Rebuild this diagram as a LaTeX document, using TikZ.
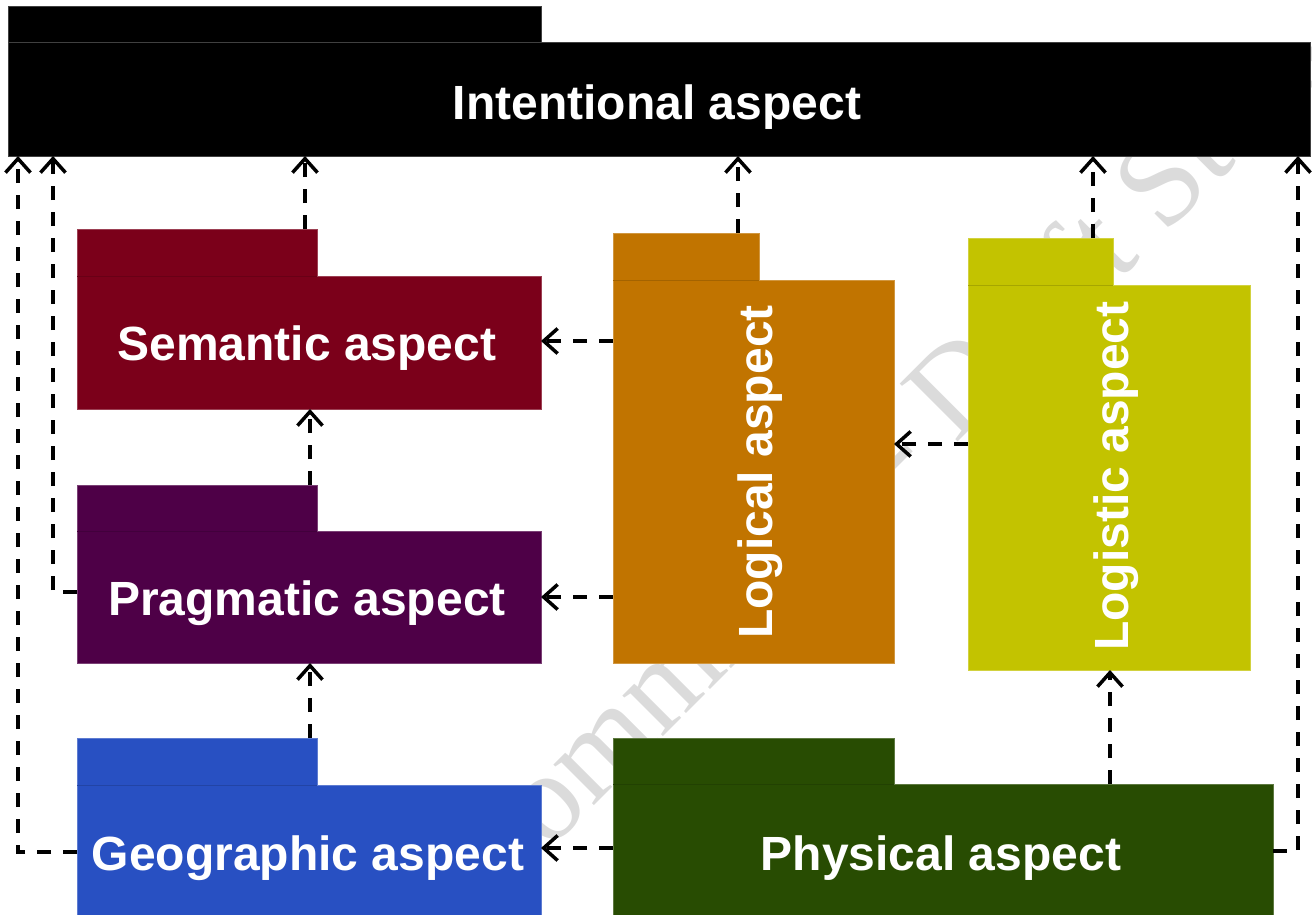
\documentclass[tikz,border=0pt]{standalone}
\usepackage{fontspec}
\setmainfont{Liberation Sans}
\newfontfamily\wmfont{Liberation Serif}
\usetikzlibrary{arrows.meta}
\definecolor{semc}{RGB}{123,0,26}
\definecolor{prac}{RGB}{78,0,71}
\definecolor{geoc}{RGB}{40,80,194}
\definecolor{logc}{RGB}{193,116,0}
\definecolor{lgsc}{RGB}{195,195,0}
\definecolor{phyc}{RGB}{40,76,2}
\begin{document}
\begin{tikzpicture}[x=1pt,y=-1pt,
  box/.style={fill=#1, draw=#1!75!white, line width=0.8pt, inner sep=0pt, outer sep=0pt, anchor=north west},
  divider/.style={draw=#1!85!black, line width=1pt},
  lbl/.style={text=white, font=\fontsize{48}{58}\selectfont\bfseries, inner sep=0pt, anchor=base},
  conn/.style={draw=black, line width=3.5pt, dash pattern=on 14pt off 12pt, -{Straight Barb[length=14pt,width=25pt]}},
  wm/.style={text=black!14, font={\wmfont\fontsize{125}{125}\selectfont}, inner sep=0pt, anchor=base west, rotate=45}]
\useasboundingbox (0,0) rectangle (1312,915);
\clip (0,0) rectangle (1312,915);
\begin{scope}
\clip (0,0) -- (541,0) -- (541,42) -- (1312,42) -- (1312,915) -- (0,915) -- cycle;
\node[wm] (watermark) at (489,911) {Committee - Draft Standard};
\end{scope}

% Intentional
\node[box=black, minimum width=533pt, minimum height=36pt] (inttab) at (8,6) {};
\node[box=black, minimum width=1302pt, minimum height=114pt] (intbody) at (8,42) {};
\node[lbl] (intlbl) at (657,120) {Intentional aspect};

% Semantic
\node[box=semc, minimum width=240pt, minimum height=47pt] (semtab) at (77,229) {};
\node[box=semc, minimum width=464pt, minimum height=133pt] (sembody) at (77,276) {};
\draw[divider=semc] (sembody.north west) -- (semtab.south east);
\node[lbl] (semlbl) at (307,360) {Semantic aspect};

% Pragmatic
\node[box=prac, minimum width=240pt, minimum height=46pt] (pratab) at (77,485) {};
\node[box=prac, minimum width=464pt, minimum height=132pt] (prabody) at (77,531) {};
\draw[divider=prac] (prabody.north west) -- (pratab.south east);
\node[lbl] (pralbl) at (307,615) {Pragmatic aspect};

% Geographic
\node[box=geoc, minimum width=240pt, minimum height=47pt] (geotab) at (77,738) {};
\node[box=geoc, minimum width=464pt, minimum height=140pt] (geobody) at (77,785) {};
\draw[divider=geoc] (geobody.north west) -- (geotab.south east);
\node[lbl] (geolbl) at (308,870) {Geographic aspect};

% Logical
\node[box=logc, minimum width=146pt, minimum height=47pt] (logtab) at (613,233) {};
\node[box=logc, minimum width=281pt, minimum height=383pt] (logbody) at (613,280) {};
\draw[divider=logc] (logbody.north west) -- (logtab.south east);
\node[lbl, rotate=90] (loglbl) at (772,472) {Logical aspect};

% Logistic
\node[box=lgsc, minimum width=145pt, minimum height=47pt] (lgstab) at (968,238) {};
\node[box=lgsc, minimum width=282pt, minimum height=385pt] (lgsbody) at (968,285) {};
\draw[divider=lgsc] (lgsbody.north west) -- (lgstab.south east);
\node[lbl, rotate=90] (lgslbl) at (1128,476) {Logistic aspect};

% Physical
\node[box=phyc, minimum width=281pt, minimum height=46pt] (phytab) at (613,738) {};
\node[box=phyc, minimum width=660pt, minimum height=140pt] (phybody) at (613,784) {};
\draw[divider=phyc] (phybody.north west) -- (phytab.south east);
\node[lbl] (phylbl) at (941,870) {Physical aspect};

% connector guide coordinates
\coordinate (xsem) at (305,0);
\coordinate (xlog) at (738,0);
\coordinate (xlgs) at (1093,0);
\coordinate (xmid) at (310,0);
\coordinate (xphy) at (1110,0);
\coordinate (rphy) at (1298,851);
\coordinate (lgeo) at (18,852);
\coordinate (lpra) at (53,592);
\coordinate (ysem) at (0,341);
\coordinate (ypra) at (0,597);
\coordinate (ylog) at (0,444);
\coordinate (ygeo) at (0,848);

% connectors
\draw[conn] (semtab.north -| xsem) -- (intbody.south -| xsem);
\draw[conn] (logtab.north -| xlog) -- (intbody.south -| xlog);
\draw[conn] (lgstab.north -| xlgs) -- (intbody.south -| xlgs);
\draw[conn] (phybody.east |- rphy) -| (intbody.south -| rphy);
\draw[conn] (geobody.west |- lgeo) -| (intbody.south -| lgeo);
\draw[conn] (prabody.west |- lpra) -| (intbody.south -| lpra);
\draw[conn] (pratab.north -| xmid) -- (sembody.south -| xmid);
\draw[conn] (geotab.north -| xmid) -- (prabody.south -| xmid);
\draw[conn] (logbody.west |- ysem) -- (sembody.east |- ysem);
\draw[conn] (logbody.west |- ypra) -- (prabody.east |- ypra);
\draw[conn] (lgsbody.west |- ylog) -- (logbody.east |- ylog);
\draw[conn] (phybody.west |- ygeo) -- (geobody.east |- ygeo);
\draw[conn] (phybody.north -| xphy) -- (lgsbody.south -| xphy);
\end{tikzpicture}
\end{document}
